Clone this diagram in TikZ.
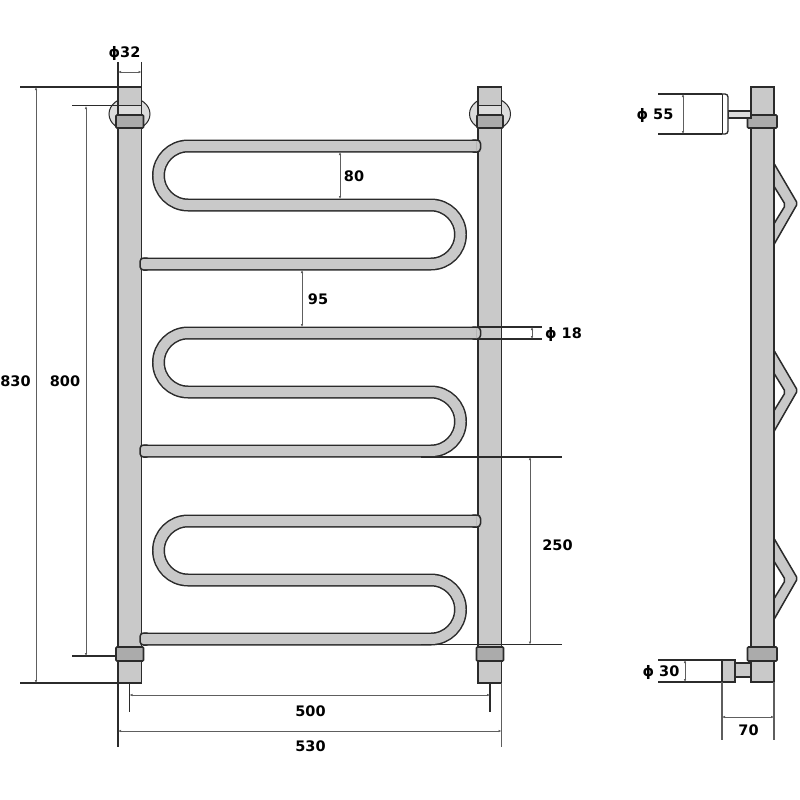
\documentclass[tikz,border=0pt]{standalone}
\usepackage{fontspec}
\setmainfont{DejaVu Sans}
\usetikzlibrary{arrows.meta}
\definecolor{steel}{HTML}{C9C9C9}
\definecolor{steeldark}{HTML}{ABABAB}
\definecolor{steellight}{HTML}{DCDCDC}
\definecolor{ink}{HTML}{2B2B2B}
\definecolor{dimgrey}{HTML}{5E5E5E}
\tikzset{
  body/.style={draw=ink,line width=1.5,fill=steel},
  collar/.style={draw=ink,line width=1.6,fill=steeldark,rounded corners=1},
  round plate/.style={draw=ink,line width=1,fill=steellight},
  valve/.style={draw=ink,line width=1.3,fill=white},
  ext/.style={draw=ink,line width=1.1},
  extg/.style={draw=dimgrey,line width=1.1},
  dimline/.style={draw=dimgrey,line width=.9,{Latex[length=3pt,width=2.6pt]}-{Latex[length=3pt,width=2.6pt]}},
  lab/.style={font=\bfseries\fontsize{14.5}{16}\selectfont,text=black,inner sep=0pt},
  tubeout/.style={draw=ink,line width=13,line join=round},
  tubein/.style={draw=steel,line width=10},
  tubecap/.style={draw=ink,line width=1.5,fill=steel,rounded corners=3.5},
}
\newcommand{\rungpath}{(476,146) -- (188,146) arc (-90:-270:29.5) -- (431,205) arc (-90:90:29.5) -- (144,264)}
\begin{document}
\begin{tikzpicture}[x=1pt,y=-1pt]
\useasboundingbox (0,0) rectangle (800,800);

% wall plates
\draw[round plate] (129.5,114) ellipse (20.5 and 16.5);
\draw[round plate] (490,114) ellipse (20.5 and 16.5);

% front posts
\foreach \px/\nm in {118/l,478/r}{
  \draw[body] (\px,87) rectangle (\px+23.5,683);
  \fill[steellight] (\px+1,105.5) rectangle (\px+22.5,115);
  \draw[draw=ink,line width=1] (\px,105.5) -- (\px+23.5,105.5);
}
\draw[collar] (116,115) rectangle (143.5,128);
\draw[collar] (477,115) rectangle (503,128);
\draw[collar] (116,647) rectangle (143.5,661);
\draw[collar] (476.5,647) rectangle (503.5,661);

% heated rungs
\foreach \o in {0,187,375}{
  \begin{scope}[yshift=-\o pt]
    \draw[tubecap] (470,140) rectangle (480.5,152);
    \draw[tubecap] (140,258) rectangle (150,270);
    \draw[tubeout] \rungpath;
    \draw[tubein] \rungpath;
  \end{scope}
}

% extension lines, front view
\draw[ext] (20,87) -- (118,87);
\draw[ext] (72,105.5) -- (118,105.5);
\draw[ext] (72,656) -- (116,656);
\draw[ext] (20,683) -- (118,683);
\draw[ext] (118,62) -- (118,87);
\draw[ext] (141.5,62) -- (141.5,87);
\draw[ext] (478,327) -- (542,327);
\draw[ext] (478,339) -- (542,339);
\draw[ext] (421,457) -- (562,457);
\draw[ext] (421,644.5) -- (562,644.5);
\draw[ext] (129.5,683) -- (129.5,712);
\draw[ext] (490,683) -- (490,712);
\draw[ext] (118,683) -- (118,747);
\draw[extg] (501.5,683) -- (501.5,747);

% dimension lines, front view
\draw[dimline] (36,87) -- (36,683);
\draw[dimline] (86,106) -- (86,656);
\draw[dimline] (118,72) -- (141.5,72);
\draw[dimline] (340,152) -- (340,199);
\draw[dimline] (302,270) -- (302,327);
\draw[dimline] (532,327) -- (532,339);
\draw[dimline] (530,457) -- (530,644.5);
\draw[dimline] (129.5,695) -- (490,695);
\draw[dimline] (118,731) -- (501.5,731);

% side view
\foreach \o in {0,187,375}{
  \begin{scope}[yshift=-\o pt]
    \draw[body,line join=round,rounded corners=2] (772,160) -- (797.5,203.5) -- (772,248) -- (772,227) -- (785.5,205) -- (772,183) -- cycle;
  \end{scope}
}
\draw[body] (751,87) rectangle (774,682);
\draw[collar] (747.5,115) rectangle (777,128);
\draw[collar] (747.5,647) rectangle (777,661);
\draw[body,fill=steellight] (728,111) rectangle (751,118);
\draw[valve,rounded corners=3] (715,94) -- (728,94) -- (728,134) -- (715,134);
\draw[draw=ink,line width=.8] (722,94) -- (722,134);
\fill[white] (700,93.4) rectangle (721.4,134.6);
\draw[valve] (658,94) -- (722,94);
\draw[valve] (658,134) -- (722,134);
\draw[body] (735,663) rectangle (751,677);
\draw[body] (722,660) rectangle (735,682);
\draw[valve] (658,660) -- (722,660);
\draw[valve] (658,682) -- (722,682);
\draw[extg] (722,682) -- (722,740);
\draw[extg] (774,682) -- (774,740);
\draw[dimline] (683,94) -- (683,134);
\draw[dimline] (685,660) -- (685,682);
\draw[dimline] (722,717) -- (774,717);

% labels
\node[lab] (d32) at (124.5,54) {ϕ32};
\node[lab] (d830) at (15.5,381) {830};
\node[lab] (d800) at (65,381) {800};
\node[lab] (d80) at (354,176) {80};
\node[lab] (d95) at (318,299) {95};
\node[lab] (d18) at (563.5,334.5) {ϕ 18};
\node[lab] (d250) at (557.5,545) {250};
\node[lab] (d500) at (310.5,711) {500};
\node[lab] (d530) at (310.5,746) {530};
\node[lab] (d55) at (655,115) {ϕ 55};
\node[lab] (d30) at (661,672) {ϕ 30};
\node[lab] (d70) at (748.5,730) {70};
\end{tikzpicture}
\end{document}
